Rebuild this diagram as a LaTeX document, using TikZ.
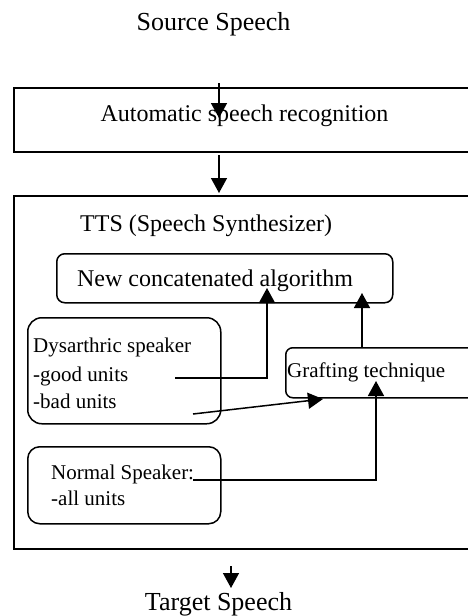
\documentclass[tikz,border=0pt]{standalone}
\usepackage{fontspec}
\setmainfont{Liberation Serif}
\usetikzlibrary{arrows.meta}
\tikzset{
  box/.style={draw, line width=1.5pt, inner sep=0pt, anchor=north west},
  rbox/.style={box, rounded corners=#1},
  txt/.style={inner sep=0pt, text height=0.7em, text depth=0.2em},
  big/.style={txt, font=\fontsize{26}{30}\selectfont},
  mid/.style={txt, font=\fontsize{24}{28}\selectfont},
  sml/.style={txt, font=\fontsize{21}{25}\selectfont, anchor=west},
  conn/.style={line width=1.5pt, -{Triangle[length=15pt,width=16pt]}},
}
\begin{document}
\begin{tikzpicture}[x=1pt,y=-1pt]
\useasboundingbox (0,0) rectangle (468,616);
\clip (0,0) rectangle (468,616);
% boxes
\node[box, minimum width=462pt, minimum height=64pt] (asr) at (13,87) {};
\node[box, minimum width=462pt, minimum height=353pt] (tts) at (13,195) {};
\node[rbox=8pt, minimum width=336pt, minimum height=49pt] (nca) at (56,253) {};
\node[rbox=14pt, minimum width=193pt, minimum height=106pt] (dys) at (27,317) {};
\node[rbox=7pt, minimum width=190pt, minimum height=50pt] (graft) at (285,347) {};
\node[rbox=12pt, minimum width=193pt, minimum height=77pt] (norm) at (27,446) {};
% texts
\node[big] (src) at (213.5,28) {Source Speech};
\node[big] (tgt) at (218.5,608) {Target Speech};
\node[mid] (asrt) at (244.5,119) {Automatic speech recognition};
\node[mid, anchor=west] (ttst) at (80,229) {TTS (Speech Synthesizer)};
\node[mid] (ncat) at (215,284) {New concatenated algorithm};
\node[sml] (d1) at (33,350) {Dysarthric speaker};
\node[sml] (d2) at (33,379) {-good units};
\node[sml] (d3) at (33,406) {-bad units};
\node[sml] (gt) at (287,375) {Grafting technique};
\node[sml] (n1) at (51,477) {Normal Speaker:};
\node[sml] (n2) at (51,503) {-all units};
% connector coordinates
\coordinate (a0) at (219,83);
\coordinate (a1) at (219,118);
\coordinate (b0) at (219,155);
\coordinate (b1) at (219,193);
\coordinate (c0) at (175,378);
\coordinate (c1) at (267,288);
\coordinate (e0) at (362,347);
\coordinate (e1) at (362,293);
\coordinate (f0) at (193,414);
\coordinate (f1) at (323,399);
\coordinate (g0) at (193,480);
\coordinate (g1) at (376,381);
\coordinate (h0) at (231,566);
\coordinate (h1) at (231,588);
% connectors
\draw[conn] (a0) -- (a1);
\draw[conn] (b0) -- (b1);
\draw[conn] (c0) -| (c1);
\draw[conn] (e0) -- (e1);
\draw[conn] (f0) -- (f1);
\draw[conn] (g0) -| (g1);
\draw[conn] (h0) -- (h1);
\end{tikzpicture}
\end{document}
